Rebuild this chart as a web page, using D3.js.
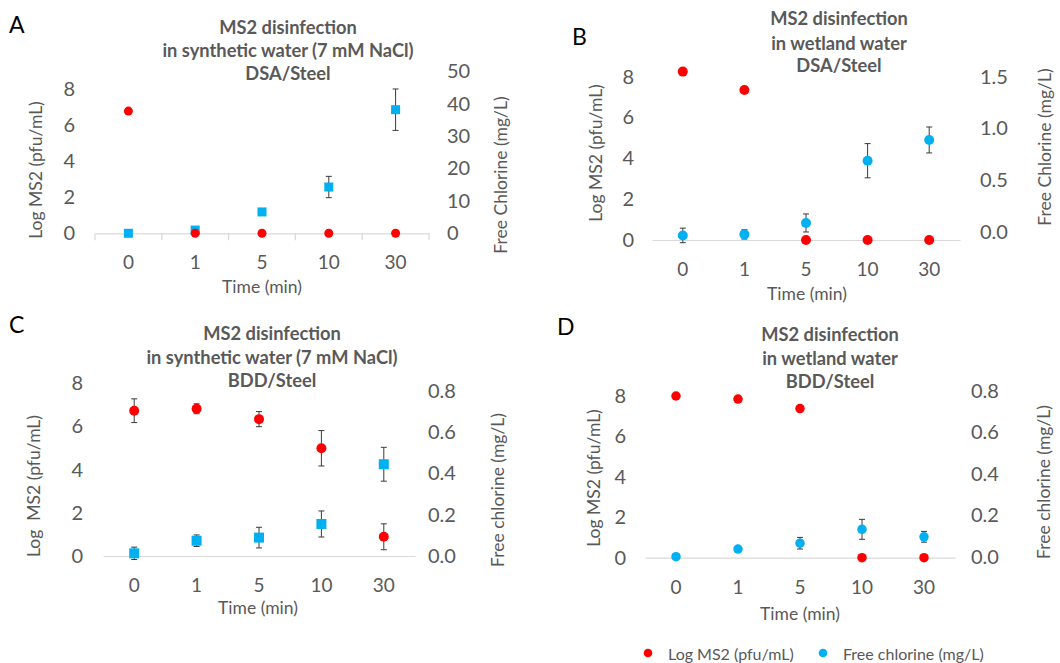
<!DOCTYPE html>
<html>
<head>
<meta charset="utf-8">
<script src="https://cdn.jsdelivr.net/npm/d3@7"></script>
<style>
  body { margin: 0; background: #fff; }
  svg { display: block; }
  text { font-family: Lato, "Open Sans", sans-serif; }
</style>
</head>
<body>
<svg id="fig" width="1060" height="663"></svg>
<script>
// Sampling times (min)
const timeLabels = ["0", "1", "5", "10", "30"];

// Axis tick values
const ms2Ticks = [0, 2, 4, 6, 8];
const chlorineTicksA = [0, 10, 20, 30, 40, 50];
const chlorineTicksB = [0, 0.5, 1.0, 1.5];
const chlorineTicksCD = [0, 0.2, 0.4, 0.6, 0.8];

// A: synthetic water, DSA/Steel
const ms2A = [6.8, 0, 0, 0, 0];
const ms2ErrA = [0, 0, 0, 0, 0];
const chlorineA = [0, 1.0, 6.6, 14.3, 38.2];
const chlorineErrA = [0, 0, 0, 3.3, 6.4];

// B: wetland water, DSA/Steel
const ms2B = [8.25, 7.35, 0, 0, 0];
const ms2ErrB = [0, 0.15, 0, 0, 0];
const chlorineB = [-0.03, -0.02, 0.09, 0.69, 0.89];
const chlorineErrB = [0.07, 0.045, 0.087, 0.165, 0.125];

// C: synthetic water, BDD/Steel
const ms2C = [6.73, 6.82, 6.34, 4.99, 0.89];
const ms2ErrC = [0.55, 0.23, 0.35, 0.82, 0.6];
const chlorineC = [0.013, 0.074, 0.089, 0.155, 0.444];
const chlorineErrC = [0.03, 0.028, 0.05, 0.063, 0.082];

// D: wetland water, BDD/Steel
const ms2D = [8.0, 7.85, 7.38, 0, 0];
const ms2ErrD = [0, 0, 0, 0, 0];
const chlorineD = [0, 0.037, 0.065, 0.132, 0.096];
const chlorineErrD = [0, 0, 0.028, 0.048, 0.026];

const RED = "#ff0000";
const BLUE = "#00b0f0";
const GREY_TEXT = "#595959";
const AXIS_LINE = "#d9d9d9";
const ERR = "#3a3a3a";

const svg = d3.select("#fig");

const panels = [
  {
    letter: "A", letterX: 9, letterY: 33,
    title: ["MS2 disinfection", "in synthetic water (7 mM NaCl)", "DSA/Steel"], titleX: 288, titleY: [27, 50, 73],
    xRange: [95, 429], baseY: 233.3, catY: 262, xTitle: [262, 286], boundaryTicks: true,
    left: { ticks: ms2Ticks, y0: 233.3, yTop: 89.5, labelX: 75, title: "Log MS2 (pfu/mL)", tx: 35, ty: 170, fmt: d3.format("d") },
    right: { ticks: chlorineTicksA, y0: 233.3, yTop: 71.5, labelX: 447, title: "Free Chlorine (mg/L)", tx: 500, ty: 175, fmt: d3.format("d") },
    ms2: ms2A, ms2Err: ms2ErrA, chl: chlorineA, chlErr: chlorineErrA, chlShape: "square", size: 9
  },
  {
    letter: "B", letterX: 572, letterY: 45,
    title: ["MS2 disinfection", "in wetland water", "DSA/Steel"], titleX: 839, titleY: [18, 43, 65],
    xRange: [652, 960], baseY: 240, catY: 269, xTitle: [807, 293], boundaryTicks: false,
    left: { ticks: ms2Ticks, y0: 240, yTop: 76.7, labelX: 634, title: "Log MS2 (pfu/mL)", tx: 595, ty: 153, fmt: d3.format("d") },
    right: { ticks: chlorineTicksB, y0: 232.3, yTop: 76.7, labelX: 980, title: "Free Chlorine (mg/L)", tx: 1044, ty: 147, fmt: d3.format(".1f"), clipBottom: 226 },
    ms2: ms2B, ms2Err: ms2ErrB, chl: chlorineB, chlErr: chlorineErrB, chlShape: "circle", size: 10
  },
  {
    letter: "C", letterX: 9, letterY: 333,
    title: ["MS2 disinfection", "in synthetic water (7 mM NaCl)", "BDD/Steel"], titleX: 272, titleY: [333, 357, 380],
    xRange: [103, 415], baseY: 556, catY: 585, xTitle: [258, 607], boundaryTicks: false,
    left: { ticks: ms2Ticks, y0: 556, yTop: 383.3, labelX: 83, title: "Log  MS2 (pfu/mL)", tx: 33, ty: 486, fmt: d3.format("d") },
    right: { ticks: chlorineTicksCD, y0: 556, yTop: 390.7, labelX: 428, title: "Free chlorine (mg/L)", tx: 497, ty: 490, fmt: d3.format(".1f") },
    ms2: ms2C, ms2Err: ms2ErrC, chl: chlorineC, chlErr: chlorineErrC, chlShape: "square", size: 10
  },
  {
    letter: "D", letterX: 557, letterY: 335,
    title: ["MS2 disinfection", "in wetland water", "BDD/Steel"], titleX: 830, titleY: [334, 358, 381],
    xRange: [645, 955], baseY: 557.7, catY: 587, xTitle: [800, 613], boundaryTicks: false,
    left: { ticks: ms2Ticks, y0: 557.7, yTop: 396, labelX: 626, title: "Log MS2 (pfu/mL)", tx: 593, ty: 478, fmt: d3.format("d") },
    right: { ticks: chlorineTicksCD, y0: 556.7, yTop: 390.7, labelX: 971, title: "Free chlorine (mg/L)", tx: 1043, ty: 482, fmt: d3.format(".1f") },
    ms2: ms2D, ms2Err: ms2ErrD, chl: chlorineD, chlErr: chlorineErrD, chlShape: "circle", size: 9.5
  }
];

panels.forEach(p => {
  const g = svg.append("g").attr("class", "panel-" + p.letter);

  const x = d3.scaleBand().domain(timeLabels).range(p.xRange);
  const yL = d3.scaleLinear().domain([0, d3.max(p.left.ticks)]).range([p.left.y0, p.left.yTop]);
  const yR = d3.scaleLinear().domain([0, d3.max(p.right.ticks)]).range([p.right.y0, p.right.yTop]);

  // panel letter
  g.append("text").attr("x", p.letterX).attr("y", p.letterY)
    .attr("font-size", 23).attr("fill", "#000").text(p.letter);

  // chart title
  g.append("g").selectAll("text").data(p.title).join("text")
    .attr("x", p.titleX).attr("y", (d, k) => p.titleY[k])
    .attr("text-anchor", "middle").attr("dominant-baseline", "central")
    .attr("font-size", 18.3).attr("font-weight", "bold").attr("fill", GREY_TEXT)
    .text(d => d);

  // category axis
  const xAxis = g.append("g").attr("transform", `translate(0,${p.baseY})`)
    .call(d3.axisBottom(x).tickSize(0).tickSizeOuter(0));
  xAxis.select(".domain").attr("stroke", AXIS_LINE).attr("stroke-width", 1.2);
  xAxis.selectAll(".tick text")
    .attr("y", p.catY - p.baseY).attr("dy", "0.35em")
    .attr("font-size", 19).attr("fill", GREY_TEXT);
  if (p.boundaryTicks) {
    const bounds = timeLabels.map(t => x(t)).concat([p.xRange[1]]);
    xAxis.selectAll(".bound").data(bounds).join("line").attr("class", "bound")
      .attr("x1", d => d).attr("x2", d => d).attr("y1", 0).attr("y2", 7)
      .attr("stroke", AXIS_LINE).attr("stroke-width", 1.2);
  }
  g.append("text").attr("x", p.xTitle[0]).attr("y", p.xTitle[1])
    .attr("text-anchor", "middle").attr("dominant-baseline", "central")
    .attr("font-size", 17.5).attr("fill", GREY_TEXT).text("Time (min)");

  // primary value axis (Log MS2)
  const la = g.append("g").attr("transform", `translate(${p.left.labelX},0)`)
    .call(d3.axisLeft(yL).tickValues(p.left.ticks).tickFormat(p.left.fmt).tickSize(0).tickPadding(0));
  la.select(".domain").remove();
  la.selectAll(".tick text").attr("font-size", 20).attr("fill", GREY_TEXT);

  // secondary value axis (free chlorine)
  const ra = g.append("g").attr("transform", `translate(${p.right.labelX},0)`)
    .call(d3.axisRight(yR).tickValues(p.right.ticks).tickFormat(p.right.fmt).tickSize(0).tickPadding(0));
  ra.select(".domain").remove();
  ra.selectAll(".tick text").attr("font-size", 20).attr("fill", GREY_TEXT);

  // axis titles
  g.append("text")
    .attr("transform", `translate(${p.left.tx},${p.left.ty}) rotate(-90)`)
    .attr("text-anchor", "middle").attr("dominant-baseline", "central")
    .attr("font-size", 17.5).attr("fill", GREY_TEXT)
    .style("white-space", "pre")
    .text(p.left.title);

  const rightHolder = p.right.clipBottom ? (() => {
    const id = "clip-" + p.letter;
    svg.append("clipPath").attr("id", id).append("rect")
      .attr("x", p.right.tx - 20).attr("y", 0).attr("width", 60).attr("height", p.right.clipBottom);
    return g.append("g").attr("clip-path", `url(#${id})`);
  })() : g;
  rightHolder.append("text")
    .attr("transform", `translate(${p.right.tx},${p.right.ty}) rotate(-90)`)
    .attr("text-anchor", "middle").attr("dominant-baseline", "central")
    .attr("font-size", 17.5).attr("fill", GREY_TEXT)
    .text(p.right.title);

  const cx = t => x(t) + x.bandwidth() / 2;
  const half = p.size / 2;

  function errorBars(data, y) {
    const eb = g.append("g").attr("stroke", ERR).attr("stroke-width", 1);
    data.filter(d => d.e > 0).forEach(d => {
      const xc = cx(d.t);
      eb.append("line").attr("x1", xc).attr("x2", xc).attr("y1", y(d.v - d.e)).attr("y2", y(d.v + d.e));
      [d.v - d.e, d.v + d.e].forEach(v => {
        eb.append("line").attr("x1", xc - 3).attr("x2", xc + 3).attr("y1", y(v)).attr("y2", y(v));
      });
    });
  }

  // free chlorine series
  const chlData = timeLabels.map((t, k) => ({ t, v: p.chl[k], e: p.chlErr[k] }));
  errorBars(chlData, yR);
  if (p.chlShape === "square") {
    g.append("g").selectAll("rect").data(chlData).join("rect")
      .attr("x", d => cx(d.t) - half).attr("y", d => yR(d.v) - half)
      .attr("width", p.size).attr("height", p.size).attr("fill", BLUE);
  } else {
    g.append("g").selectAll("circle").data(chlData).join("circle")
      .attr("cx", d => cx(d.t)).attr("cy", d => yR(d.v)).attr("r", half).attr("fill", BLUE);
  }

  // Log MS2 series
  const msData = timeLabels.map((t, k) => ({ t, v: p.ms2[k], e: p.ms2Err[k] }));
  errorBars(msData, yL);
  g.append("g").selectAll("circle").data(msData).join("circle")
    .attr("cx", d => cx(d.t)).attr("cy", d => yL(d.v)).attr("r", half).attr("fill", RED);
});

// legend
const legendItems = [
  { label: "Log MS2 (pfu/mL)", color: RED, x: 648 },
  { label: "Free chlorine (mg/L)", color: BLUE, x: 823 }
];
const lg = svg.append("g").attr("class", "legend");
legendItems.forEach(it => {
  lg.append("circle").attr("cx", it.x).attr("cy", 653).attr("r", 4.3).attr("fill", it.color);
  lg.append("text").attr("x", it.x + 20).attr("y", 653).attr("dominant-baseline", "central")
    .attr("font-size", 16).attr("fill", GREY_TEXT).text(it.label);
});
</script>
</body>
</html>
